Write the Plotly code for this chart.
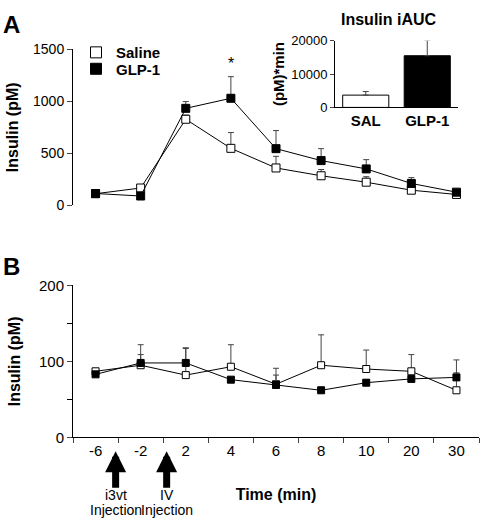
import plotly.graph_objects as go

# ---- data ----
time_labels = ["-6", "-2", "2", "4", "6", "8", "10", "20", "30"]

# Panel A (insulin, pM)
saline_A = [110, 165, 827, 547, 358, 283, 221, 144, 103]
saline_A_err = [0, 15, 40, 152, 112, 60, 53, 45, 10]
glp1_A = [112, 88, 932, 1029, 544, 429, 349, 209, 125]
glp1_A_err = [0, 10, 65, 208, 174, 115, 89, 56, 10]

# Inset (iAUC)
auc_groups = ["SAL", "GLP-1"]
auc_values = [3680, 15480]
auc_err = [1070, 4640]

# Panel B (insulin, pM)
saline_B = [87, 95, 82, 93, 70, 95, 90, 87, 62]
saline_B_err = [0, 14, 35, 29, 21, 40, 25, 22, 40]
glp1_B = [83, 98, 98, 76, 69, 62, 72, 77, 79]
glp1_B_err = [0, 24, 20, 3, 13, 4, 4, 3, 6]

W, H = 482, 526
FONT = "Liberation Sans, Arial, sans-serif"
ERRC = "#444444"

def px_x(p):
    return p / W

def px_y(p):
    return 1 - p / H

fig = go.Figure()

def add_series(xa, ya, y, err, filled, size, name):
    fig.add_trace(go.Scatter(
        x=time_labels, y=y, xaxis=xa, yaxis=ya, name=name, showlegend=False,
        mode="lines+markers",
        line=dict(color="black", width=1),
        marker=dict(symbol="square", size=size,
                    color="black" if filled else "white",
                    line=dict(color="black", width=1)),
        error_y=dict(type="data", symmetric=False, array=err,
                     arrayminus=[0] * len(err), color=ERRC,
                     thickness=1, width=3),
    ))

add_series("x", "y", saline_A, saline_A_err, False, 8, "Saline")
add_series("x", "y", glp1_A, glp1_A_err, True, 8, "GLP-1")
add_series("x2", "y2", saline_B, saline_B_err, False, 7, "Saline")
add_series("x2", "y2", glp1_B, glp1_B_err, True, 7, "GLP-1")

# legend entries (marker only), one legend each for exact row placement
for name, filled, lg in [("Saline", False, "legend"), ("GLP-1", True, "legend2")]:
    fig.add_trace(go.Scatter(
        x=[None], y=[None], xaxis="x", yaxis="y", name=name, mode="markers",
        marker=dict(symbol="square", size=11,
                    color="black" if filled else "white",
                    line=dict(color="black", width=1)),
        showlegend=True, legend=lg,
    ))

fig.add_trace(go.Bar(
    x=auc_groups, y=auc_values, xaxis="x3", yaxis="y3", showlegend=False,
    width=0.75,
    marker=dict(color=["white", "black"], line=dict(color="black", width=1)),
    error_y=dict(type="data", symmetric=False, array=auc_err,
                 arrayminus=[0, 0], color=ERRC, thickness=1, width=3),
))

legend_style = dict(xanchor="left", yanchor="top",
                    font=dict(size=15, family=FONT, weight="bold"),
                    bgcolor="rgba(0,0,0,0)", itemwidth=30)
xdom = [px_x(73), px_x(479)]
fig.update_layout(
    width=W, height=H,
    margin=dict(l=0, r=0, t=0, b=0),
    paper_bgcolor="white", plot_bgcolor="white",
    font=dict(family=FONT, color="black"),
    showlegend=True,
    legend=dict(x=px_x(76), y=px_y(28), **legend_style),
    legend2=dict(x=px_x(76), y=px_y(45), **legend_style),
    xaxis=dict(domain=xdom, type="category", range=[-0.5, 8.5],
               visible=False, anchor="y"),
    yaxis=dict(domain=[px_y(202.7), px_y(41.7)], range=[0, 1500],
               tickvals=[0, 500, 1000, 1500], ticks="outside", ticklen=5,
               showline=True, linecolor="black", linewidth=1,
               showgrid=False, zeroline=False, tickfont=dict(size=14),
               title=dict(text="Insulin (pM)", font=dict(size=16, weight="bold"),
                          standoff=10),
               anchor="x"),
    xaxis2=dict(domain=xdom, type="category", range=[-0.5, 8.5],
                tickson="boundaries", ticks="outside", ticklen=5,
                showline=True, linecolor="black", linewidth=1,
                showgrid=False, tickfont=dict(size=15), anchor="y2",
                title=dict(text="Time (min)", font=dict(size=16, weight="bold"),
                           standoff=30)),
    yaxis2=dict(domain=[px_y(442.7), px_y(285.7)], range=[0, 200],
                tickvals=[0, 100, 200], ticks="outside", ticklen=5,
                minor=dict(tickvals=[50, 150], ticks="outside", ticklen=5,
                           tickcolor="black"),
                showline=True, linecolor="black", linewidth=1,
                showgrid=False, zeroline=False, tickfont=dict(size=15),
                title=dict(text="Insulin (pM)", font=dict(size=16, weight="bold"),
                           standoff=14),
                anchor="x2"),
    xaxis3=dict(domain=[px_x(335), px_x(458)], type="category",
                showline=True, linecolor="black", linewidth=1, ticks="",
                showgrid=False, tickfont=dict(size=15, weight="bold"),
                anchor="y3"),
    yaxis3=dict(domain=[px_y(101.7), px_y(32.7)], range=[0, 20000],
                tickvals=[0, 10000, 20000], tickformat="d",
                ticks="outside", ticklen=4,
                showline=True, linecolor="black", linewidth=1,
                showgrid=False, zeroline=False, tickfont=dict(size=13),
                title=dict(text="(pM)*min", font=dict(size=15, weight="bold"),
                           standoff=2),
                anchor="x3"),
)

ann = []
# panel letters
ann.append(dict(text="<b>A</b>", x=px_x(1), y=px_y(0), xref="paper", yref="paper",
                xanchor="left", yanchor="top", showarrow=False, font=dict(size=24)))
ann.append(dict(text="<b>B</b>", x=px_x(1), y=px_y(250), xref="paper", yref="paper",
                xanchor="left", yanchor="top", showarrow=False, font=dict(size=24)))
# inset title
ann.append(dict(text="<b>Insulin iAUC</b>", x=px_x(389), y=px_y(0), xref="paper",
                yref="paper", xanchor="center", yanchor="top", showarrow=False,
                font=dict(size=16)))
# significance stars
i4 = time_labels.index("4")
ann.append(dict(text="*", x=i4, y=glp1_A[i4] + glp1_A_err[i4],
                xref="x", yref="y", yanchor="bottom", showarrow=False,
                font=dict(size=16), yshift=3))
ann.append(dict(text="*", x=1, y=auc_values[1] + auc_err[1], xref="x3",
                yref="y3", yanchor="bottom", showarrow=False, font=dict(size=16),
                yshift=-4))
# injection arrows and labels
for idx, l1 in [(0.445, "i3vt"), (1.576, "IV")]:
    ann.append(dict(text="", x=idx, y=px_y(457), xref="x2", yref="paper",
                    ax=0, ay=38, axref="pixel", ayref="pixel",
                    showarrow=True, arrowhead=2, arrowsize=0.6, arrowwidth=7,
                    arrowcolor="black"))
    ann.append(dict(text=l1, x=idx, y=px_y(502), xref="x2", yref="paper",
                    xanchor="center", yanchor="middle", showarrow=False,
                    font=dict(size=14)))
    ann.append(dict(text="Injection", x=idx, y=px_y(518), xref="x2", yref="paper",
                    xanchor="center", yanchor="middle", showarrow=False,
                    font=dict(size=14)))
fig.update_layout(annotations=ann)

fig.write_html("out.html", config={"displayModeBar": False},
               post_script="document.body.style.margin='0';")
